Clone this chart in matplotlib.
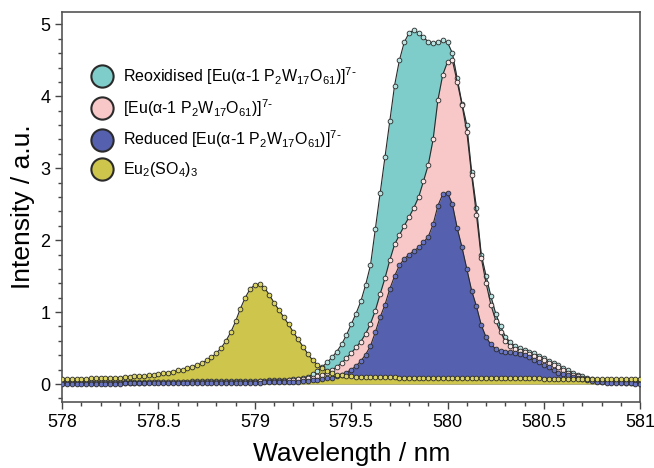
import numpy as np
import matplotlib
matplotlib.use("Agg")
import matplotlib.pyplot as plt
from matplotlib.lines import Line2D
from matplotlib.ticker import MultipleLocator, FuncFormatter

plt.rcParams['font.family'] = ['Liberation Sans', 'DejaVu Sans']
plt.rcParams['mathtext.default'] = 'regular'

# wavelength grid, 0.025 nm steps
wavelength = np.round(578 + 0.025 * np.arange(121), 3)

# Eu2(SO4)3
eu_sulfate = [
    0.070, 0.070, 0.070, 0.072, 0.074, 0.075, 0.077, 0.078,
    0.080, 0.082, 0.084, 0.086, 0.090, 0.095, 0.100, 0.105,
    0.110, 0.115, 0.120, 0.130, 0.140, 0.150, 0.160, 0.170,
    0.190, 0.200, 0.220, 0.240, 0.260, 0.290, 0.330, 0.370,
    0.430, 0.500, 0.600, 0.720, 0.870, 1.050, 1.200, 1.320,
    1.380, 1.390, 1.340, 1.240, 1.130, 1.030, 0.930, 0.830,
    0.720, 0.620, 0.520, 0.420, 0.330, 0.270, 0.220, 0.180,
    0.150, 0.130, 0.120, 0.110, 0.105, 0.100, 0.100, 0.098,
    0.096, 0.095, 0.094, 0.093, 0.092, 0.091, 0.090, 0.090,
    0.089, 0.088, 0.088, 0.087, 0.087, 0.086, 0.086, 0.085,
    0.085, 0.084, 0.084, 0.083, 0.083, 0.082, 0.082, 0.081,
    0.081, 0.080, 0.080, 0.080, 0.079, 0.079, 0.078, 0.078,
    0.078, 0.077, 0.077, 0.077, 0.076, 0.076, 0.076, 0.075,
    0.075, 0.075, 0.074, 0.074, 0.074, 0.073, 0.073, 0.073,
    0.072, 0.072, 0.072, 0.071, 0.071, 0.071, 0.070, 0.070,
    0.070,
]

# reoxidised POM complex
reoxidised = [
    0.030, 0.030, 0.030, 0.030, 0.030, 0.030, 0.030, 0.030,
    0.030, 0.030, 0.031, 0.031, 0.031, 0.031, 0.032, 0.032,
    0.032, 0.032, 0.033, 0.033, 0.033, 0.034, 0.034, 0.034,
    0.035, 0.035, 0.035, 0.036, 0.036, 0.037, 0.037, 0.038,
    0.038, 0.039, 0.040, 0.040, 0.041, 0.042, 0.043, 0.044,
    0.045, 0.046, 0.048, 0.050, 0.052, 0.055, 0.058, 0.062,
    0.068, 0.076, 0.086, 0.100, 0.135, 0.180, 0.240, 0.300,
    0.370, 0.450, 0.550, 0.680, 0.830, 0.980, 1.150, 1.380,
    1.650, 2.150, 2.650, 3.150, 3.650, 4.150, 4.500, 4.750,
    4.880, 4.920, 4.880, 4.820, 4.760, 4.740, 4.750, 4.780,
    4.750, 4.600, 4.250, 3.900, 3.600, 2.950, 2.450, 1.800,
    1.500, 1.220, 0.980, 0.800, 0.660, 0.580, 0.530, 0.500,
    0.470, 0.450, 0.430, 0.390, 0.360, 0.320, 0.290, 0.260,
    0.220, 0.190, 0.160, 0.130, 0.110, 0.090, 0.070, 0.055,
    0.045, 0.040, 0.036, 0.034, 0.032, 0.031, 0.030, 0.030,
    0.030,
]

# as prepared POM complex
pristine = [
    0.020, 0.020, 0.020, 0.020, 0.020, 0.020, 0.020, 0.020,
    0.020, 0.020, 0.020, 0.020, 0.020, 0.020, 0.021, 0.021,
    0.021, 0.021, 0.022, 0.022, 0.022, 0.022, 0.023, 0.023,
    0.023, 0.024, 0.024, 0.024, 0.025, 0.025, 0.026, 0.026,
    0.027, 0.027, 0.028, 0.029, 0.030, 0.031, 0.032, 0.033,
    0.034, 0.036, 0.038, 0.040, 0.042, 0.045, 0.048, 0.052,
    0.058, 0.065, 0.070, 0.080, 0.090, 0.105, 0.130, 0.160,
    0.190, 0.240, 0.290, 0.360, 0.430, 0.510, 0.590, 0.700,
    0.840, 1.020, 1.250, 1.470, 1.720, 1.940, 2.070, 2.200,
    2.320, 2.450, 2.600, 2.820, 3.050, 3.400, 3.950, 4.300,
    4.480, 4.500, 4.200, 3.880, 3.500, 2.900, 2.350, 1.750,
    1.400, 1.100, 0.880, 0.720, 0.600, 0.530, 0.490, 0.460,
    0.440, 0.420, 0.390, 0.360, 0.330, 0.290, 0.260, 0.230,
    0.190, 0.160, 0.130, 0.110, 0.090, 0.070, 0.055, 0.042,
    0.034, 0.028, 0.025, 0.023, 0.022, 0.021, 0.020, 0.020,
    0.020,
]

# reduced POM complex
reduced = [
    0.005, 0.005, 0.005, 0.005, 0.005, 0.006, 0.006, 0.006,
    0.006, 0.007, 0.007, 0.007, 0.007, 0.008, 0.008, 0.008,
    0.008, 0.009, 0.009, 0.009, 0.010, 0.010, 0.010, 0.011,
    0.011, 0.011, 0.012, 0.012, 0.012, 0.013, 0.013, 0.014,
    0.014, 0.015, 0.015, 0.016, 0.016, 0.017, 0.018, 0.019,
    0.020, 0.021, 0.022, 0.023, 0.024, 0.026, 0.028, 0.030,
    0.032, 0.035, 0.040, 0.045, 0.050, 0.060, 0.070, 0.080,
    0.090, 0.110, 0.130, 0.160, 0.200, 0.250, 0.320, 0.410,
    0.530, 0.720, 0.930, 1.100, 1.320, 1.500, 1.650, 1.740,
    1.800, 1.850, 1.900, 1.970, 2.050, 2.220, 2.480, 2.640,
    2.660, 2.500, 2.170, 1.900, 1.600, 1.300, 1.080, 0.820,
    0.650, 0.550, 0.490, 0.460, 0.450, 0.440, 0.430, 0.420,
    0.400, 0.370, 0.330, 0.300, 0.260, 0.230, 0.190, 0.160,
    0.140, 0.120, 0.100, 0.090, 0.070, 0.050, 0.040, 0.030,
    0.022, 0.018, 0.015, 0.012, 0.010, 0.009, 0.008, 0.007,
    0.006,
]

labels = [
    r'Reoxidised [Eu(α-1 P$_2$W$_{17}$O$_{61}$)]$^{7\text{-}}$',
    r'[Eu(α-1 P$_2$W$_{17}$O$_{61}$)]$^{7\text{-}}$',
    r'Reduced [Eu(α-1 P$_2$W$_{17}$O$_{61}$)]$^{7\text{-}}$',
    r'Eu$_2$(SO$_4$)$_3$',
]
series = [reoxidised, pristine, reduced, eu_sulfate]
fill_colors = ['#7fcdca', '#f8c8c9', '#5561ae', '#cdc54c']
dot_colors = ['#b9e4e2', '#fbe6e6', '#6a75c2', '#dcd565']
edge = '#2a2a2a'

fig = plt.figure(figsize=(6.54, 4.68), dpi=100)
ax = fig.add_axes([0.095, 0.141, 0.884, 0.833])

for k, (vals, fc) in enumerate(zip(series, fill_colors)):
    ax.fill_between(wavelength, 0, vals, color=fc, lw=0, zorder=1 + k)
for k, (vals, dc) in enumerate(zip(series, dot_colors)):
    ax.plot(wavelength, vals, color=edge, lw=0.8, marker='o', ms=3.4,
            mfc=dc, mec=edge, mew=0.6, zorder=6 + k)

ax.set_xlim(578, 581)
ax.set_ylim(-0.25, 5.17)
ax.xaxis.set_major_locator(MultipleLocator(0.5))
ax.xaxis.set_minor_locator(MultipleLocator(0.1))
ax.yaxis.set_major_locator(MultipleLocator(1))
ax.yaxis.set_minor_locator(MultipleLocator(0.2))
ax.xaxis.set_major_formatter(FuncFormatter(lambda v, p: f'{v:g}'))
ax.tick_params(which='both', direction='out', top=False, right=False,
               color='#444', labelsize=13)
ax.tick_params(which='major', length=5, width=1)
ax.tick_params(which='minor', length=3, width=1)
for sp in ax.spines.values():
    sp.set_color('#555')
    sp.set_linewidth(1.2)

ax.set_xlabel('Wavelength / nm', fontsize=19, labelpad=8)
ax.set_ylabel('Intensity / a.u.', fontsize=19, labelpad=4)

handles = [Line2D([], [], ls='none', marker='o', ms=16, mfc=fc, mec=edge, mew=1.5)
           for fc in fill_colors]
ax.legend(handles, labels, loc='upper left', bbox_to_anchor=(0.03, 0.88),
          frameon=False, fontsize=11.5, handletextpad=0.3, labelspacing=0.62,
          borderaxespad=0)

fig.savefig('out.png', dpi=100)
